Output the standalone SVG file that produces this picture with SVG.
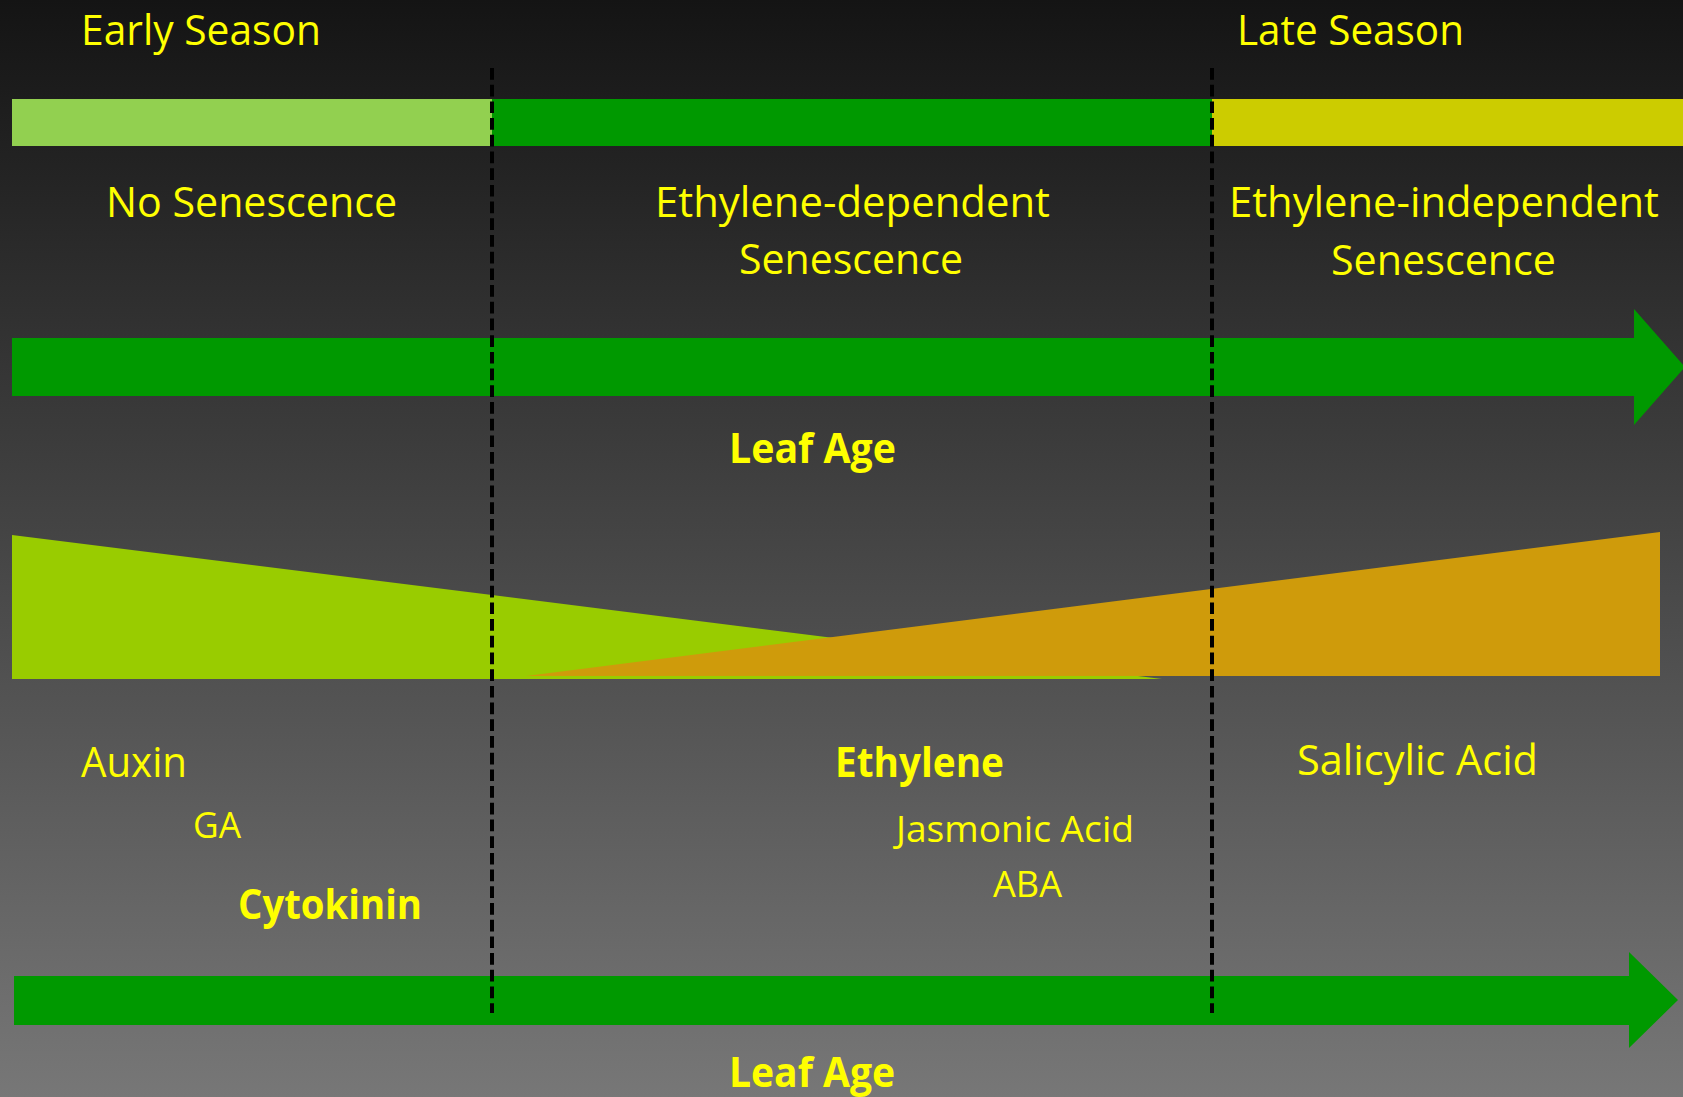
<svg xmlns="http://www.w3.org/2000/svg" width="1683" height="1097" viewBox="0 0 1683 1097">
  <defs>
    <linearGradient id="bg" x1="0" y1="0" x2="0" y2="1">
      <stop offset="0" stop-color="#141414"/>
      <stop offset="1" stop-color="#777777"/>
    </linearGradient>
  </defs>
  <style>
    text { font-family: "Open Sans", "Noto Sans", "Liberation Sans", sans-serif; fill: #FFFF00; }
    .m { font-size: 42px; }
    .s { font-size: 37px; }
    .b { font-size: 42px; font-weight: bold; }
    .dash { stroke: #000000; stroke-width: 4; stroke-dasharray: 11.7 5; fill: none; }
    .arrow { fill: #009900; }
  </style>
  <rect x="0" y="0" width="1683" height="1097" fill="url(#bg)"/>

  <g id="season-bar">
    <rect x="12" y="99" width="480" height="47" fill="#92D050"/>
    <rect x="492" y="99" width="720" height="47" fill="#009900"/>
    <rect x="1212" y="99" width="471" height="47" fill="#CCCC00"/>
  </g>

  <g id="labels-top">
    <text class="m" x="81" y="45" textLength="240" lengthAdjust="spacingAndGlyphs">Early Season</text>
    <text class="m" x="1237" y="45" textLength="227" lengthAdjust="spacingAndGlyphs">Late Season</text>
    <text class="m" x="106" y="217" textLength="291" lengthAdjust="spacingAndGlyphs">No Senescence</text>
    <text class="m" x="655" y="217" textLength="395" lengthAdjust="spacingAndGlyphs">Ethylene-dependent</text>
    <text class="m" x="739" y="274" textLength="224" lengthAdjust="spacingAndGlyphs">Senescence</text>
    <text class="m" x="1229" y="217" textLength="430" lengthAdjust="spacingAndGlyphs">Ethylene-independent</text>
    <text class="m" x="1331" y="275" textLength="225" lengthAdjust="spacingAndGlyphs">Senescence</text>
  </g>

  <g id="leaf-age-arrow-top">
    <polygon class="arrow" points="12,338 1634,338 1634,309 1685,367 1634,425 1634,396 12,396"/>
    <text class="b" x="729" y="463" textLength="167" lengthAdjust="spacingAndGlyphs">Leaf Age</text>
  </g>

  <g id="hormone-triangles">
    <polygon points="12,535 1162,679 12,679" fill="#99CC00"/>
    <polygon points="526,676 1660,532 1660,676" fill="#CF9B0B"/>
  </g>

  <g id="hormone-labels">
    <text class="m" x="81" y="777" textLength="106" lengthAdjust="spacingAndGlyphs">Auxin</text>
    <text class="s" x="193" y="838" textLength="48" lengthAdjust="spacingAndGlyphs">GA</text>
    <text class="b" x="238" y="919" textLength="184" lengthAdjust="spacingAndGlyphs">Cytokinin</text>
    <text class="b" x="835" y="777" textLength="169" lengthAdjust="spacingAndGlyphs">Ethylene</text>
    <text class="s" x="896" y="842" textLength="238" lengthAdjust="spacingAndGlyphs">Jasmonic Acid</text>
    <text class="s" x="993" y="897" textLength="69" lengthAdjust="spacingAndGlyphs">ABA</text>
    <text class="m" x="1297" y="775" textLength="241" lengthAdjust="spacingAndGlyphs">Salicylic Acid</text>
  </g>

  <g id="leaf-age-arrow-bottom">
    <polygon class="arrow" points="14,976 1629,976 1629,952 1678,1000 1629,1048 1629,1025 14,1025"/>
    <text class="b" x="729" y="1087" textLength="166" lengthAdjust="spacingAndGlyphs">Leaf Age</text>
  </g>

  <g id="connectors">
    <line class="dash" x1="492" y1="68" x2="492" y2="1013"/>
    <line class="dash" x1="1212" y1="68" x2="1212" y2="1013"/>
  </g>
</svg>
